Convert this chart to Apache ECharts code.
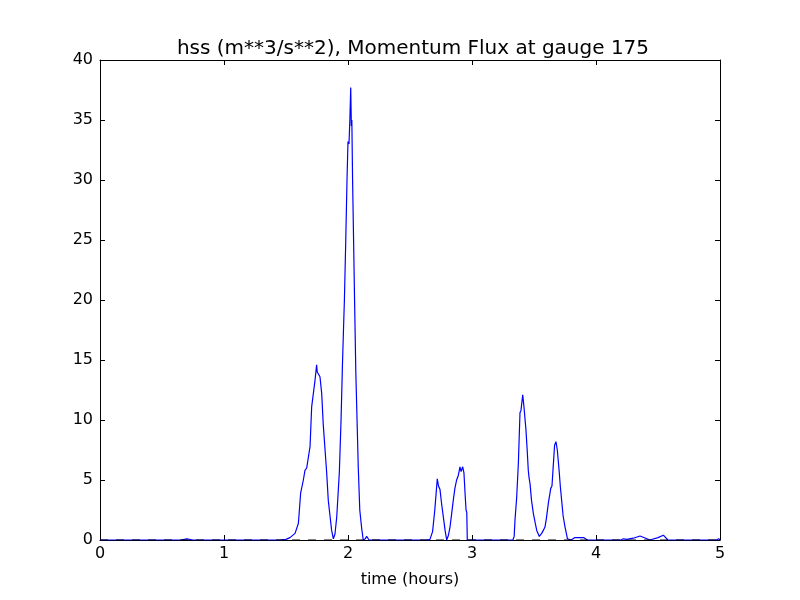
<!DOCTYPE html>
<html>
<head>
<meta charset="utf-8">
<script src="https://cdn.jsdelivr.net/npm/echarts@6/dist/echarts.min.js"></script>
<style>html,body{margin:0;padding:0;background:#fff}#c{width:800px;height:600px}</style>
</head>
<body>
<div id="c"></div>
<script>
var titleText = 'hss (m**3/s**2), Momentum Flux at gauge 175';
var xLabel = 'time (hours)';
var xTicks = [0, 1, 2, 3, 4, 5];
var yTicks = [0, 5, 10, 15, 20, 25, 30, 35, 40];

var timeHours = [
  0, 0.65, 0.70, 0.75, 1.45, 1.50, 1.532, 1.573, 1.60, 1.618, 1.64, 1.653, 1.667, 1.694, 1.707, 1.734, 1.747, 1.752, 1.76, 1.774, 1.788, 1.80, 1.815, 1.828, 1.841, 1.855, 1.868, 1.882, 1.895, 1.909, 1.93, 1.944, 1.955, 1.965, 1.971, 1.982, 1.992, 2.0, 2.008, 2.015, 2.022, 2.027, 2.031, 2.037, 2.045, 2.053, 2.063, 2.073, 2.083, 2.095, 2.11, 2.123, 2.14, 2.15, 2.159, 2.17,
  2.64, 2.661, 2.682, 2.70, 2.71, 2.72, 2.73, 2.742, 2.755, 2.769, 2.783, 2.796, 2.81, 2.823, 2.836, 2.849, 2.862, 2.876, 2.89, 2.903, 2.912, 2.917, 2.925, 2.935, 2.944, 2.952, 2.958, 2.962,
  3.33, 3.34, 3.347, 3.36, 3.374, 3.387, 3.395, 3.409, 3.419, 3.435, 3.445, 3.454, 3.46, 3.468, 3.48, 3.495, 3.51, 3.522, 3.543, 3.562, 3.575, 3.589, 3.60, 3.616, 3.635, 3.645, 3.653, 3.666, 3.677, 3.688, 3.704, 3.712, 3.723, 3.735, 3.75, 3.77, 3.80, 3.83, 3.90, 3.93,
  4.20, 4.22, 4.25, 4.30, 4.355, 4.40, 4.435, 4.50, 4.543, 4.58, 4.97, 4.99, 5.0
];
var momentumFlux = [
  0, 0, 0.1, 0, 0, 0.05, 0.2, 0.55, 1.4, 3.9, 5.0, 5.8, 6.0, 7.8, 11.1, 13.3, 14.6, 14.0, 14.0, 13.6, 12.2, 9.7, 7.5, 5.6, 3.3, 2.0, 0.8, 0.1, 0.5, 1.9, 5.6, 10.0, 14.5, 18.0, 20.0, 25.0, 30.0, 33.2, 33.0, 35.0, 37.7, 34.5, 35.0, 30.0, 25.0, 20.0, 14.0, 10.0, 6.0, 2.5, 1.0, 0, 0.1, 0.3, 0.4, 0,
  0, 0.05, 0.7, 2.5, 3.8, 5.1, 4.5, 4.2, 3.0, 1.9, 0.8, 0, 0.4, 1.1, 2.2, 3.3, 4.3, 5.0, 5.4, 6.1, 5.7, 5.7, 6.1, 5.6, 3.9, 2.5, 2.3, 0,
  0, 0.3, 1.7, 3.5, 6.4, 10.6, 10.8, 12.1, 11.1, 9.2, 7.5, 5.8, 5.2, 4.7, 3.3, 2.2, 1.4, 0.8, 0.3, 0.55, 0.8, 1.1, 1.8, 3.1, 4.3, 4.5, 5.8, 7.9, 8.2, 7.5, 5.6, 4.5, 3.3, 2.0, 1.1, 0.1, 0, 0.2, 0.2, 0,
  0, 0.1, 0.05, 0.15, 0.33, 0.15, 0, 0.2, 0.4, 0, 0, 0.1, 0
];
var zeroLine = [[0, 0], [5, 0]];

var fluxData = timeHours.map(function (t, i) { return [t, momentumFlux[i]]; });
var font = 'DejaVu Sans';

var chart = echarts.init(document.getElementById('c'), null, {renderer: 'canvas'});
var tickStyle = {show: true, inside: true, length: 5, lineStyle: {color: '#000', width: 1}};
chart.setOption({
  animation: false,
  backgroundColor: '#fff',
  title: {
    text: titleText, left: 408, top: 34, textAlign: 'center',
    textStyle: {fontFamily: font, fontSize: 20, fontWeight: 'normal', color: '#000'}
  },
  grid: {left: 100, right: 80, top: 60, bottom: 60, show: false},
  xAxis: [{
    type: 'value', min: 0, max: 5, interval: 1, position: 'bottom',
    name: xLabel, nameLocation: 'middle', nameGap: 32,
    nameTextStyle: {fontFamily: font, fontSize: 16, color: '#000'},
    axisLine: {show: true, onZero: false, lineStyle: {color: '#000', width: 1}},
    axisTick: tickStyle, splitLine: {show: false},
    axisLabel: {fontFamily: font, fontSize: 16, color: '#000', margin: 6}
  }, {
    type: 'value', min: 0, max: 5, interval: 1, position: 'top',
    axisLine: {show: true, onZero: false, lineStyle: {color: '#000', width: 1}},
    axisTick: tickStyle, splitLine: {show: false}, axisLabel: {show: false}
  }],
  yAxis: [{
    type: 'value', min: 0, max: 40, interval: 5, position: 'left',
    axisLine: {show: true, onZero: false, lineStyle: {color: '#000', width: 1}},
    axisTick: tickStyle, splitLine: {show: false},
    axisLabel: {fontFamily: font, fontSize: 16, color: '#000', margin: 7}
  }, {
    type: 'value', min: 0, max: 40, interval: 5, position: 'right',
    axisLine: {show: true, onZero: false, lineStyle: {color: '#000', width: 1}},
    axisTick: tickStyle, splitLine: {show: false}, axisLabel: {show: false}
  }],
  series: [{
    type: 'line', data: fluxData, showSymbol: false, symbol: 'none',
    lineStyle: {color: '#0000ff', width: 1.2}, z: 3
  }, {
    type: 'line', data: zeroLine, showSymbol: false, symbol: 'none',
    lineStyle: {color: '#000', width: 1, type: [8, 8]}, z: 4
  }]
});
</script>
</body>
</html>
